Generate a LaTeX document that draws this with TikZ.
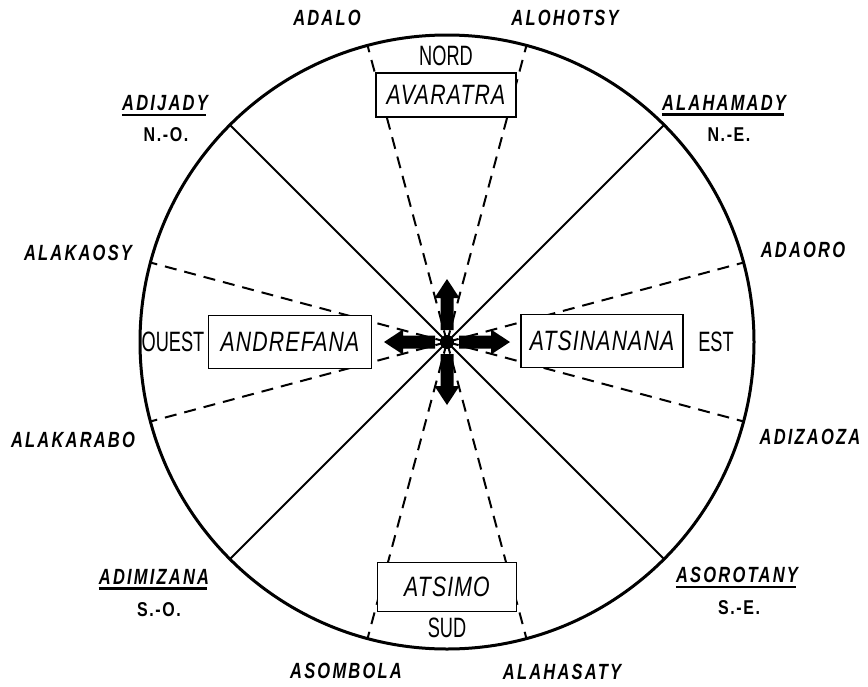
\documentclass[tikz,border=0pt]{standalone}
\usepackage{fontspec}
\usetikzlibrary{calc}
\setmainfont{Liberation Sans}
\newfontfamily\lblfont[FakeStretch=0.75,LetterSpace=10]{Liberation Sans}
\newfontfamily\boxfont[FakeStretch=0.76,LetterSpace=4]{Liberation Sans}
\newfontfamily\dirfont[FakeStretch=0.65]{Liberation Sans}
\newfontfamily\compfont[FakeStretch=0.8,LetterSpace=8]{Liberation Sans}
\begin{document}
\begin{tikzpicture}[x=1pt,y=-1pt,
  lbl/.style={inner sep=0pt, font={\lblfont\bfseries\itshape\fontsize{22}{24}\selectfont}},
  comp/.style={inner sep=0pt, font={\compfont\bfseries\fontsize{20}{22}\selectfont}},
  regbox/.style={draw, fill=white, line width=1.8pt, inner sep=0pt,
     font={\boxfont\itshape\fontsize{28}{30}\selectfont}},
  dirlbl/.style={inner sep=0pt, font={\dirfont\fontsize{28}{30}\selectfont}},
  rim/.style={line width=3pt},
  diag/.style={line width=2pt},
  dashln/.style={line width=2pt, dash pattern=on 12pt off 8pt},
  uline/.style={line width=2.6pt}
]
\useasboundingbox (0,0) rectangle (868,686);
\coordinate (C) at (447,342);
% circle
\draw[rim] (C) circle (307);
% solid diagonals
\foreach \a in {45,135,225,315}{
  \coordinate (d\a) at ($(C)+(\a:307)$);
  \draw[diag] (C) -- (d\a);
}
% dashed sector lines
\foreach \a in {15,75,105,165,195,255,285,345}{
  \coordinate (s\a) at ($(C)+(\a:307)$);
  \draw[dashln] (C) -- (s\a);
}
% boxes
\node[regbox, minimum width=140pt, minimum height=44pt] (avaratra) at (446,95) {AVARATRA};
\node[regbox, minimum width=163pt, minimum height=53pt] (andrefana) at (290,342) {ANDREFANA};
\node[regbox, minimum width=162pt, minimum height=53pt] (atsinanana) at (602,341) {ATSINANANA};
\node[regbox, minimum width=139pt, minimum height=49pt] (atsimo) at (447,587) {ATSIMO};
% arrows
\foreach \a in {0,90,180,270}{
  \fill[shift={(447,342)}, rotate=\a] (12,-6.5) -- (44,-6.5) -- (44,-12.5) -- (63,0) -- (44,12.5) -- (44,6.5) -- (12,6.5) -- cycle;
}
\fill (C) circle (7);
% cardinal words
\node[dirlbl] (nord) at (446,56) {NORD};
\node[dirlbl] (ouest) at (173,342) {OUEST};
\node[dirlbl] (est) at (716,342) {EST};
\node[dirlbl] (sud) at (447,628) {SUD};
% outer labels
\node[lbl] (adalo) at (327,18) {ADALO};
\node[lbl] (alohotsy) at (565,18) {ALOHOTSY};
\node[lbl] (adijady) at (165,103) {ADIJADY};
\node[comp] (no) at (166,135) {N.-O.};
\node[lbl] (alahamady) at (724,103) {ALAHAMADY};
\node[comp] (ne) at (729,135) {N.-E.};
\node[lbl] (alakaosy) at (78,253) {ALAKAOSY};
\node[lbl] (adaoro) at (803,250) {ADAORO};
\node[lbl] (alakarabo) at (73,440) {ALAKARABO};
\node[lbl] (adizaoza) at (810,437) {ADIZAOZA};
\node[lbl] (adimizana) at (154,577) {ADIMIZANA};
\node[comp] (so) at (159,610) {S.-O.};
\node[lbl] (asorotany) at (737,575) {ASOROTANY};
\node[comp] (se) at (739,608) {S.-E.};
\node[lbl] (asombola) at (346,671) {ASOMBOLA};
\node[lbl] (alahasaty) at (562,672) {ALAHASATY};
% underlines
\foreach \n in {adijady,alahamady,adimizana,asorotany}{
  \draw[uline] ([yshift=-4pt]\n.south west) -- ([yshift=-4pt,xshift=-2pt]\n.south east);
}
\end{tikzpicture}
\end{document}
